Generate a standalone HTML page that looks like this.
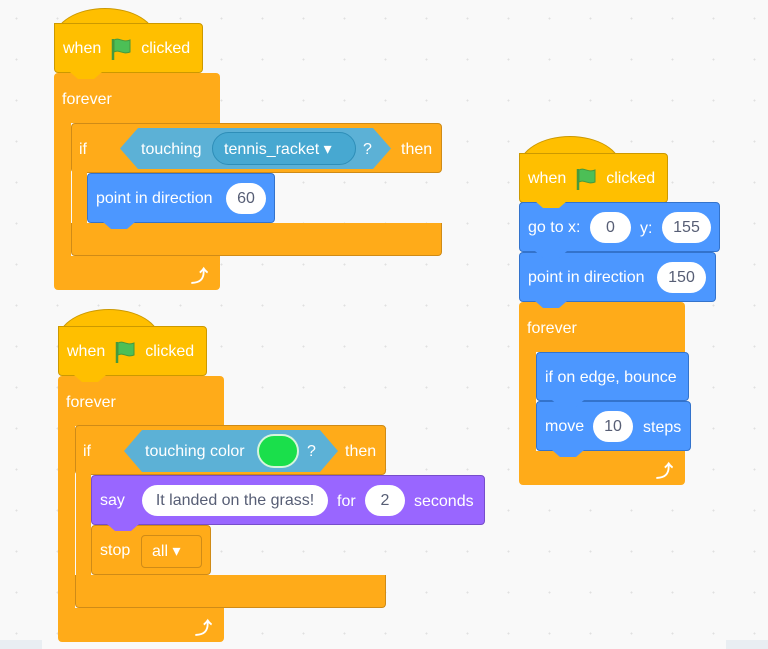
<!DOCTYPE html>
<html><head><meta charset="utf-8"><style>
body{margin:0;width:768px;height:649px;overflow:hidden;background:#f9f9f9;font-family:"Liberation Sans",sans-serif;position:relative}
.dots{position:absolute;inset:0;background-image:radial-gradient(circle,#e0e0e0 0.8px,transparent 1.1px);background-size:41px 41px;background-position:-4px -2px}
.a{position:absolute;box-sizing:border-box}
.blk{position:absolute;box-sizing:border-box;border-radius:4px;display:flex;align-items:center;color:#fff;font-size:16px;padding-left:8px;padding-top:2px;white-space:nowrap}
.ev{background:#ffbf00;border:1px solid #cc9900}
.ct{background:#ffab19}
.mo{background:#4c97ff;border:1px solid #3373cc}
.lo{background:#9966ff;border:1px solid #774dcb}
.pill{position:absolute;box-sizing:border-box;background:#fff;border-radius:16px;color:#575e75;font-size:16px;display:flex;align-items:center;justify-content:center;padding-top:1px}
.t{position:absolute;color:#fff;font-size:16px;white-space:nowrap;line-height:18px}
.dome{position:absolute;background:#ffbf00;border-radius:50% 50% 0 0/100% 100% 0 0;border:1px solid #cc9900;border-bottom:none}
.notch{position:absolute;width:32px;height:7px;clip-path:polygon(0 0,100% 0,75% 100%,25% 100%)}
.hex{position:absolute;background:#5cb1d6;clip-path:polygon(0 50%,18px 0,calc(100% - 18px) 0,100% 50%,calc(100% - 18px) 100%,18px 100%)}
.arr{position:absolute;color:#fff;font-size:17px;font-weight:bold}
</style></head><body>
<div class="dots"></div>
<div class="a" style="left:0;top:640px;width:42px;height:9px;background:#e9eef2"></div>
<div class="a" style="left:726px;top:640px;width:42px;height:9px;background:#e9eef2"></div>

<!-- Script 1 -->
<div class="dome" style="left:54px;top:8px;width:100px;height:30px"></div>
<div class="blk ev" style="left:54px;top:23px;width:149px;height:50px;border-top-left-radius:0">when<svg style="margin:0 9px 0 9px" width="22" height="24" viewBox="0 0 22 24"><path d="M3 2v21" stroke="#45993d" stroke-width="2.5"/><path d="M4 3c5-3 9 3 16 0v12c-7 3-11-3-16 0z" fill="#4cbf56" stroke="#45993d" stroke-width="1"/></svg>clicked</div>
<div class="a ct" style="left:54px;top:73px;width:166px;height:50px;border-radius:4px 4px 0 0"></div>
<div class="notch" style="left:70px;top:72px;background:#ffbf00"></div>
<div class="a ct" style="left:54px;top:110px;width:17px;height:160px"></div>
<div class="a ct" style="left:54px;top:256px;width:166px;height:34px;border-radius:0 0 4px 4px"></div>
<div class="t" style="left:62px;top:91px">forever</div>
<div class="arr" style="left:191px;top:262px">⤴</div>
<div class="a ct" style="left:71px;top:123px;width:371px;height:50px;border-radius:4px;border:1px solid #cf8b17"></div>
<div class="a ct" style="left:71px;top:223px;width:371px;height:33px;border-radius:0 0 4px 4px;border:1px solid #cf8b17;border-top:none"></div>
<div class="a ct" style="left:72px;top:160px;width:15px;height:80px"></div>
<div class="t" style="left:79px;top:141px">if</div>
<div class="hex" style="left:120px;top:128px;width:271px;height:41px"></div>
<div class="t" style="left:141px;top:141px">touching</div>
<div class="a" style="left:212px;top:132px;width:144px;height:33px;border-radius:17px;background:#47a8d1;border:1px solid #2e8eb8"></div>
<div class="t" style="left:224px;top:141px">tennis_racket ▾</div>
<div class="t" style="left:363px;top:141px">?</div>
<div class="t" style="left:401px;top:141px">then</div>
<div class="blk mo" style="left:87px;top:173px;width:188px;height:50px">point in direction</div>
<div class="pill" style="left:226px;top:183px;width:40px;height:31px">60</div>
<div class="notch" style="left:103px;top:222px;background:#4c97ff"></div>

<!-- Script 2 -->
<div class="dome" style="left:58px;top:309px;width:100px;height:30px"></div>
<div class="blk ev" style="left:58px;top:326px;width:149px;height:50px;border-top-left-radius:0">when<svg style="margin:0 9px 0 9px" width="22" height="24" viewBox="0 0 22 24"><path d="M3 2v21" stroke="#45993d" stroke-width="2.5"/><path d="M4 3c5-3 9 3 16 0v12c-7 3-11-3-16 0z" fill="#4cbf56" stroke="#45993d" stroke-width="1"/></svg>clicked</div>
<div class="a ct" style="left:58px;top:376px;width:166px;height:50px;border-radius:4px 4px 0 0"></div>
<div class="notch" style="left:74px;top:375px;background:#ffbf00"></div>
<div class="a ct" style="left:58px;top:410px;width:17px;height:220px"></div>
<div class="a ct" style="left:58px;top:608px;width:166px;height:34px;border-radius:0 0 4px 4px"></div>
<div class="t" style="left:66px;top:394px">forever</div>
<div class="arr" style="left:195px;top:614px">⤴</div>
<div class="a ct" style="left:75px;top:425px;width:311px;height:50px;border-radius:4px;border:1px solid #cf8b17"></div>
<div class="a ct" style="left:75px;top:575px;width:311px;height:33px;border-radius:0 0 4px 4px;border:1px solid #cf8b17;border-top:none"></div>
<div class="a ct" style="left:76px;top:462px;width:15px;height:125px"></div>
<div class="t" style="left:83px;top:443px">if</div>
<div class="hex" style="left:124px;top:430px;width:214px;height:42px"></div>
<div class="t" style="left:145px;top:443px">touching color</div>
<div class="a" style="left:257px;top:434px;width:42px;height:34px;border-radius:17px;background:#1adf4b;border:2px solid #d6f5dc"></div>
<div class="t" style="left:307px;top:443px">?</div>
<div class="t" style="left:345px;top:443px">then</div>
<div class="blk lo" style="left:91px;top:475px;width:394px;height:50px">say</div>
<div class="pill" style="left:142px;top:485px;width:186px;height:31px">It landed on the grass!</div>
<div class="t" style="left:337px;top:493px">for</div>
<div class="pill" style="left:365px;top:485px;width:40px;height:31px">2</div>
<div class="t" style="left:414px;top:493px">seconds</div>
<div class="blk ct" style="left:91px;top:525px;width:120px;height:50px;border:1px solid #cf8b17">stop</div>
<div class="notch" style="left:107px;top:524px;background:#9966ff"></div>
<div class="a" style="left:141px;top:535px;width:61px;height:33px;border-radius:4px;border:1px solid #cf8b17;background:#ffab19"></div>
<div class="t" style="left:152px;top:543px">all ▾</div>

<!-- Script 3 -->
<div class="dome" style="left:519px;top:136px;width:100px;height:30px"></div>
<div class="blk ev" style="left:519px;top:153px;width:149px;height:50px;border-top-left-radius:0">when<svg style="margin:0 9px 0 9px" width="22" height="24" viewBox="0 0 22 24"><path d="M3 2v21" stroke="#45993d" stroke-width="2.5"/><path d="M4 3c5-3 9 3 16 0v12c-7 3-11-3-16 0z" fill="#4cbf56" stroke="#45993d" stroke-width="1"/></svg>clicked</div>
<div class="blk mo" style="left:519px;top:202px;width:201px;height:50px">go to x:</div>
<div class="notch" style="left:535px;top:201px;background:#ffbf00"></div>
<div class="pill" style="left:590px;top:212px;width:41px;height:31px">0</div>
<div class="t" style="left:640px;top:220px">y:</div>
<div class="pill" style="left:662px;top:212px;width:49px;height:31px">155</div>
<div class="blk mo" style="left:519px;top:252px;width:197px;height:50px">point in direction</div>
<div class="notch" style="left:535px;top:251px;background:#4c97ff"></div>
<div class="pill" style="left:657px;top:262px;width:49px;height:31px">150</div>
<div class="a ct" style="left:519px;top:302px;width:166px;height:50px;border-radius:4px 4px 0 0"></div>
<div class="notch" style="left:535px;top:301px;background:#4c97ff"></div>
<div class="a ct" style="left:519px;top:340px;width:17px;height:120px"></div>
<div class="a ct" style="left:519px;top:451px;width:166px;height:34px;border-radius:0 0 4px 4px"></div>
<div class="t" style="left:527px;top:320px">forever</div>
<div class="arr" style="left:656px;top:457px">⤴</div>
<div class="blk mo" style="left:536px;top:352px;width:153px;height:49px">if on edge, bounce</div>
<div class="blk mo" style="left:536px;top:401px;width:155px;height:50px">move</div>
<div class="notch" style="left:552px;top:400px;background:#4c97ff"></div>
<div class="pill" style="left:593px;top:411px;width:40px;height:31px">10</div>
<div class="t" style="left:643px;top:419px">steps</div>
<div class="notch" style="left:552px;top:450px;background:#4c97ff"></div>
</body></html>
